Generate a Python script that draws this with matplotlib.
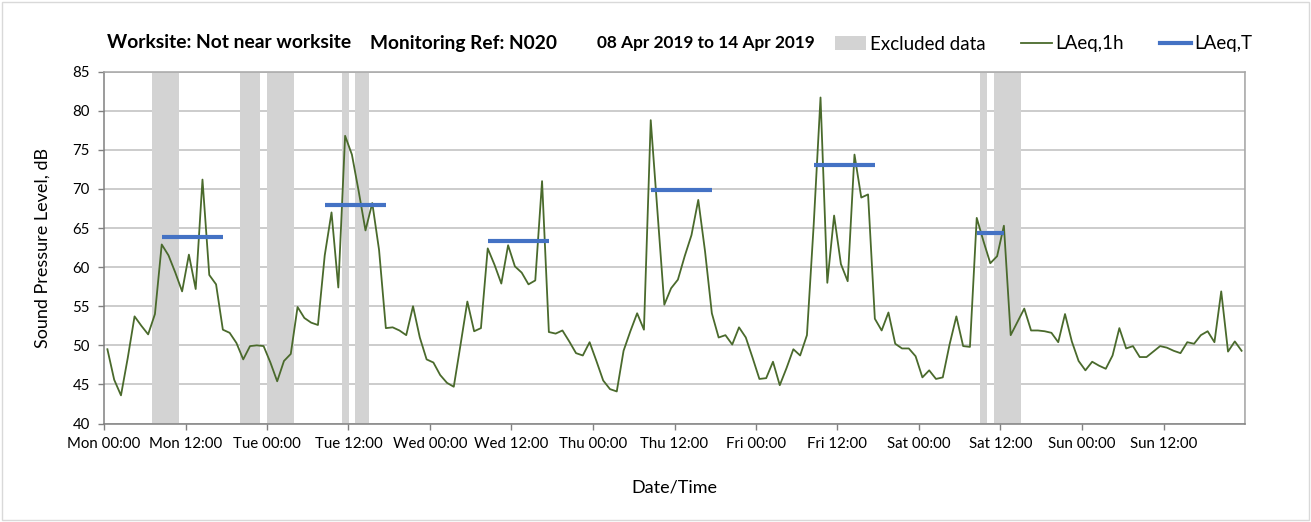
import numpy as np
import matplotlib
matplotlib.use("Agg")
import matplotlib.pyplot as plt
from matplotlib.patches import Patch, Rectangle
from matplotlib.lines import Line2D

plt.rcParams['font.family'] = ['Lato', 'DejaVu Sans']

# Hourly LAeq,1h values, Mon 00:00 .. Sun 23:00 (one per hour)
laeq_1h = [
    49.5, 45.6, 43.6, 48.4, 53.7, 52.5, 51.4, 54.0, 62.9, 61.5, 59.3, 56.9,
    61.6, 57.2, 71.2, 59.0, 57.8, 52.0, 51.6, 50.3, 48.2, 49.9, 50.0, 49.9,
    47.8, 45.4, 48.0, 48.9, 54.9, 53.5, 52.9, 52.6, 61.5, 67.0, 57.4, 76.8,
    74.4, 69.7, 64.7, 68.2, 62.2, 52.2, 52.3, 51.9, 51.3, 55.0, 51.0, 48.2,
    47.8, 46.2, 45.2, 44.7, 50.1, 55.6, 51.8, 52.2, 62.4, 60.3, 57.9, 62.8,
    60.1, 59.3, 57.8, 58.3, 71.0, 51.7, 51.5, 51.9, 50.5, 49.0, 48.7, 50.4,
    48.0, 45.5, 44.4, 44.1, 49.3, 51.8, 54.1, 52.0, 78.8, 67.0, 55.2, 57.3,
    58.4, 61.4, 64.1, 68.6, 62.0, 54.1, 51.0, 51.3, 50.1, 52.3, 51.0, 48.4,
    45.7, 45.8, 47.9, 44.9, 47.1, 49.5, 48.7, 51.3, 65.5, 81.7, 58.0, 66.6,
    60.4, 58.2, 74.4, 68.9, 69.3, 53.4, 51.9, 54.2, 50.2, 49.6, 49.6, 48.6,
    45.9, 46.8, 45.7, 45.9, 50.1, 53.7, 49.9, 49.8, 66.3, 63.3, 60.5, 61.4,
    65.3, 51.3, 53.0, 54.7, 51.9, 51.9, 51.8, 51.6, 50.4, 54.0, 50.5, 48.0,
    46.8, 47.9, 47.4, 47.0, 48.7, 52.2, 49.6, 49.9, 48.5, 48.5, 49.2, 49.9,
    49.7, 49.3, 49.0, 50.4, 50.2, 51.3, 51.8, 50.4, 56.9, 49.2, 50.5, 49.3,
]

# Excluded data periods (start hour, end hour from Mon 00:00)
excluded_start = [7, 20, 24, 35, 37, 129, 131]
excluded_end = [11, 23, 28, 36, 39, 130, 135]

# LAeq,T assessment periods (first and last hourly sample) and levels
laeq_t_first = [8, 32, 56, 80, 104, 128]
laeq_t_last = [17, 41, 65, 89, 113, 132]
laeq_t_values = [63.9, 67.9, 63.3, 69.9, 73.05, 64.4]

tick_labels = ['Mon 00:00', 'Mon 12:00', 'Tue 00:00', 'Tue 12:00',
               'Wed 00:00', 'Wed 12:00', 'Thu 00:00', 'Thu 12:00',
               'Fri 00:00', 'Fri 12:00', 'Sat 00:00', 'Sat 12:00',
               'Sun 00:00', 'Sun 12:00']

W, H = 1311, 522
fig = plt.figure(figsize=(W / 100, H / 100), dpi=100)
fig.patch.set_facecolor('white')

# Outer frame of the chart area
fig.patches.append(Rectangle((2 / W, 2 / H), 1 - 4 / W, 1 - 4 / H,
                             transform=fig.transFigure, fill=False,
                             edgecolor='#d9d9d9', linewidth=1.0))

ax = fig.add_axes([104 / W, 98.5 / H, 1141 / W, 351.8 / H])

hours = np.arange(len(laeq_1h)) + 0.5

for s, e in zip(excluded_start, excluded_end):
    ax.axvspan(s, e, color='#d3d3d3', linewidth=0, zorder=1)

ax.plot(hours, laeq_1h, color='#4a6a2c', linewidth=1.3, zorder=3)

for f, l, v in zip(laeq_t_first, laeq_t_last, laeq_t_values):
    ax.plot([f + 0.5, l + 0.5], [v, v], color='#4472c4', linewidth=3.0,
            solid_capstyle='butt', zorder=4)

ax.set_xlim(0, 168)
ax.set_ylim(40, 85)
ax.set_yticks(np.arange(40, 86, 5))
ax.set_xticks(np.arange(0, 168, 12))
ax.set_xticklabels(tick_labels)
ax.set_xticks(np.arange(0, 169, 24), minor=True)

ax.grid(axis='y', color='#bfbfbf', linewidth=1.1, zorder=0)
ax.grid(axis='x', which='minor', color='#d9d9d9', linewidth=1.1, zorder=0)
ax.set_axisbelow(True)
ax.tick_params(axis='x', which='minor', length=0)
ax.tick_params(axis='both', which='major', direction='out', length=4,
               width=1, color='#808080', labelsize=10.8, pad=6)

for side in ['left', 'bottom']:
    ax.spines[side].set_color('#808080')
    ax.spines[side].set_linewidth(1.1)
for side in ['top', 'right']:
    ax.spines[side].set_color('#a6a6a6')
    ax.spines[side].set_linewidth(1.1)

ax.set_ylabel('Sound Pressure Level, dB', fontsize=13, labelpad=16)
ax.set_xlabel('Date/Time', fontsize=13, labelpad=20)

# Header texts
fig.text(107 / W, 1 - 43 / H, 'Worksite: Not near worksite', fontsize=13.9,
         fontweight='bold', va='center', ha='left')
fig.text(370 / W, 1 - 43 / H, 'Monitoring Ref: N020', fontsize=13.8,
         fontweight='bold', va='center', ha='left')
fig.text(597 / W, 1 - 43 / H, '08 Apr 2019 to 14 Apr 2019', fontsize=12.4,
         fontweight='bold', va='center', ha='left')

handles = [Patch(facecolor='#d3d3d3', edgecolor='none'),
           Line2D([], [], color='#4a6a2c', linewidth=1.3),
           Line2D([], [], color='#4472c4', linewidth=3.0)]
fig.legend(handles, ['Excluded data', 'LAeq,1h', 'LAeq,T'],
           loc='center right', bbox_to_anchor=(1260 / W, 1 - 44 / H),
           ncol=3, frameon=False, fontsize=13.5, handlelength=1.65,
           handleheight=0.75, handletextpad=0.2, columnspacing=1.9,
           borderaxespad=0)

fig.savefig('out.png', dpi=100)
